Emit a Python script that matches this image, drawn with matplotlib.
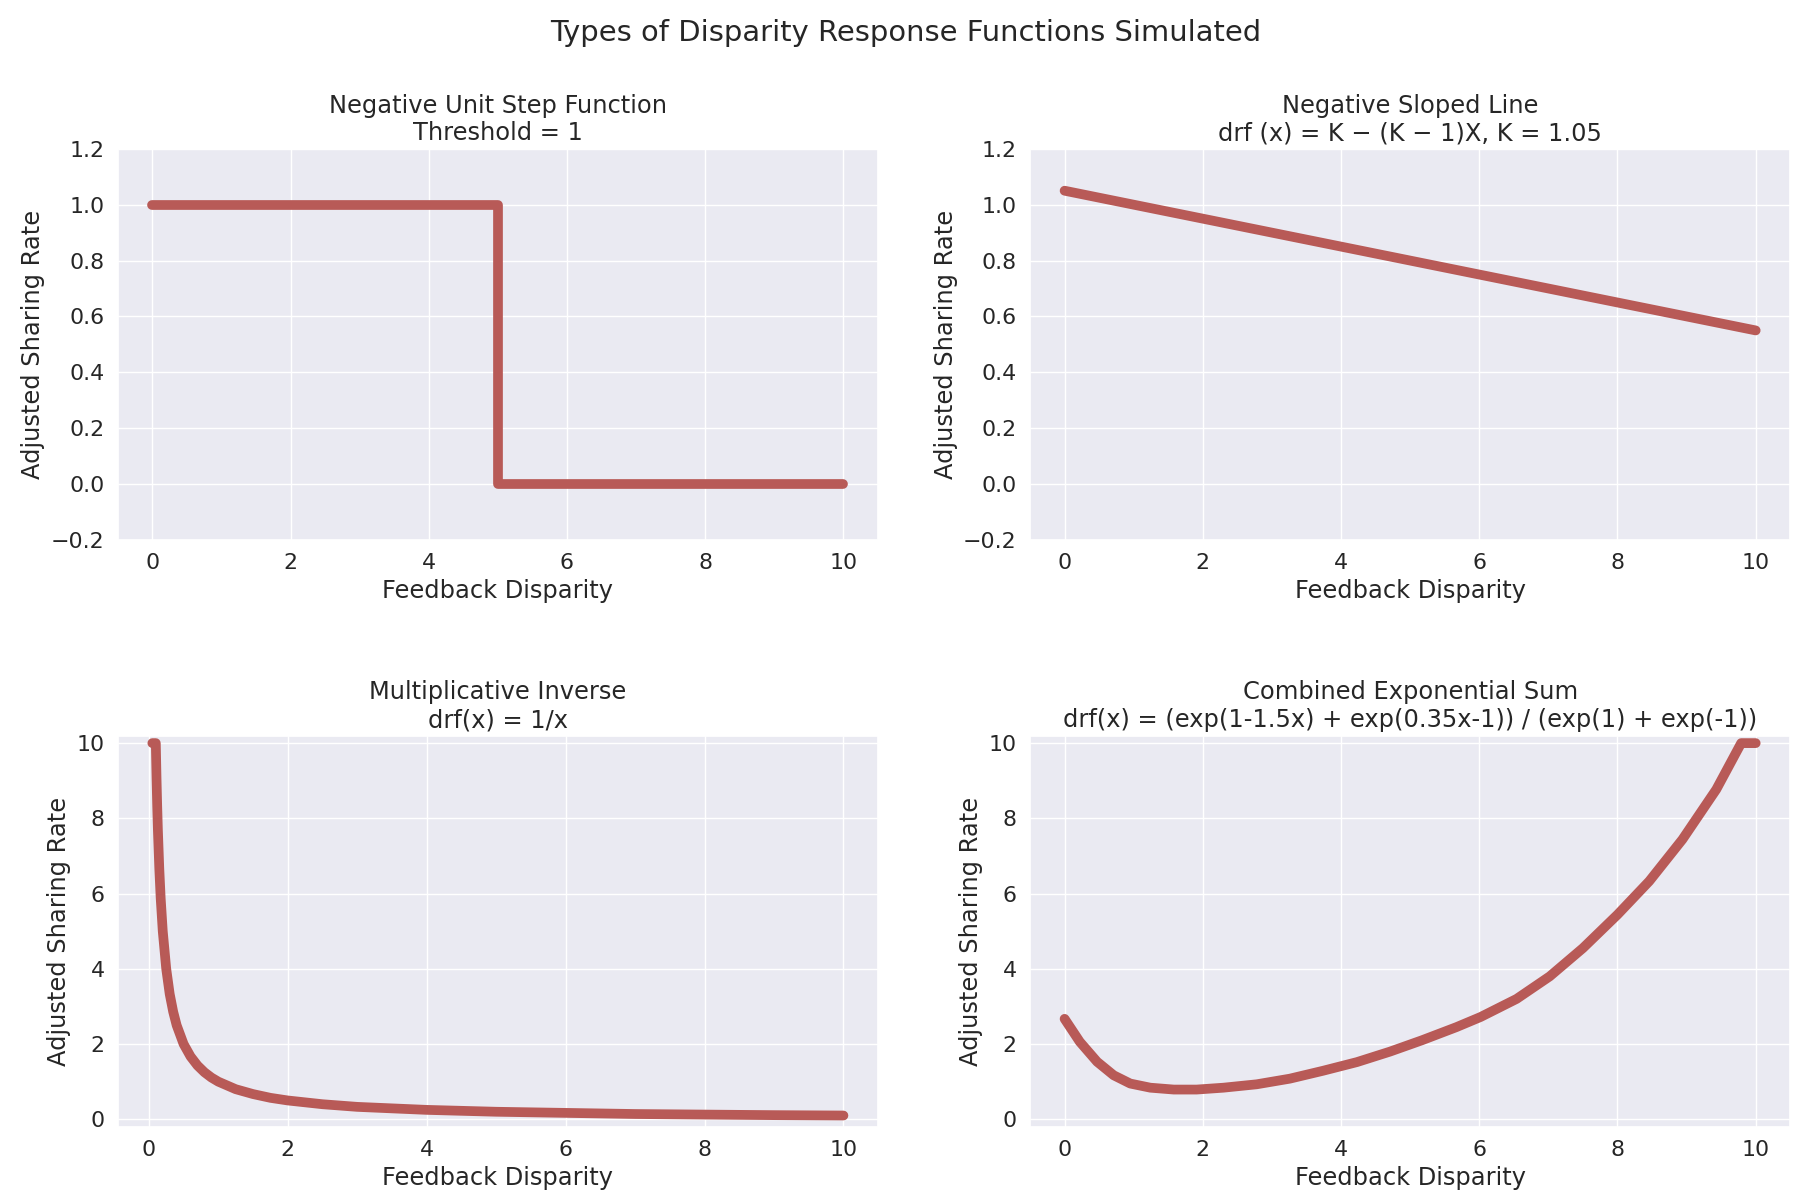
import numpy as np
import matplotlib
matplotlib.use('Agg')
import matplotlib.pyplot as plt
import seaborn as sns

# values
step_x = [0, 5, 5, 10]
step_y = [1.0, 1.0, 0.0, 0.0]

line_x = [0, 10]
line_y = [1.05, 0.55]

inv_x = [0.05, 0.1, 0.11, 0.12, 0.13, 0.15, 0.17, 0.2, 0.25, 0.3, 0.35, 0.4, 0.5, 0.6,
         0.7, 0.8, 0.9, 1.0, 1.25, 1.5, 1.75, 2.0, 2.5, 3.0, 4.0, 5.0, 6.0, 7.0, 8.0,
         9.0, 10.0]
inv_y = [10.0, 10.0, 9.09, 8.33, 7.69, 6.67, 5.88, 5.0, 4.0, 3.33, 2.86, 2.5, 2.0, 1.67,
         1.43, 1.25, 1.11, 1.0, 0.8, 0.67, 0.57, 0.5, 0.4, 0.33, 0.25, 0.2, 0.17, 0.14,
         0.125, 0.11, 0.1]

exp_x = [0.0, 0.22, 0.47, 0.71, 0.95, 1.24, 1.58, 1.91, 2.30, 2.78, 3.26, 3.74, 4.23,
         4.71, 5.17, 5.67, 6.02, 6.54, 7.02, 7.5, 8.0, 8.46, 8.94, 9.43, 9.79, 10.0]
exp_y = [2.67, 2.06, 1.53, 1.17, 0.95, 0.84, 0.79, 0.79, 0.84, 0.93, 1.08, 1.29, 1.52,
         1.80, 2.10, 2.45, 2.72, 3.20, 3.80, 4.55, 5.44, 6.33, 7.44, 8.77, 10.0, 10.0]

titles = ['Negative Unit Step Function\nThreshold = 1',
          'Negative Sloped Line\ndrf (x) = K \u2212 (K \u2212 1)X, K = 1.05',
          'Multiplicative Inverse\ndrf(x) = 1/x',
          'Combined Exponential Sum\ndrf(x) = (exp(1-1.5x) + exp(0.35x-1)) / (exp(1) + exp(-1))']

sns.set(style='darkgrid', font_scale=1.45)
plt.rcParams['font.family'] = ['DejaVu Sans']

line_color = '#B85A57'

fig, axes = plt.subplots(2, 2, figsize=(18.12, 12), dpi=100)
fig.suptitle('Types of Disparity Response Functions Simulated', y=0.984)

series = [(step_x, step_y), (line_x, line_y), (inv_x, inv_y), (exp_x, exp_y)]
for ax, (xs, ys), title in zip(axes.flat, series, titles):
	ax.plot(xs, ys, color=line_color, linewidth=7, solid_capstyle='round', solid_joinstyle='round')
	ax.set_title(title)
	ax.set_xlabel('Feedback Disparity')
	ax.set_ylabel('Adjusted Sharing Rate')
	ax.set_xticks([0, 2, 4, 6, 8, 10])

for ax in axes[0]:
	ax.set_ylim(-0.2, 1.2)
	ax.set_yticks([-0.2, 0.0, 0.2, 0.4, 0.6, 0.8, 1.0, 1.2])

for ax in axes[1]:
	ax.set_ylim(-0.2, 10.2)
	ax.set_yticks([0, 2, 4, 6, 8, 10])

plt.subplots_adjust(left=0.065, right=0.988, top=0.876, bottom=0.061, wspace=0.2, hspace=0.5)
plt.savefig('out.png', dpi=100)
